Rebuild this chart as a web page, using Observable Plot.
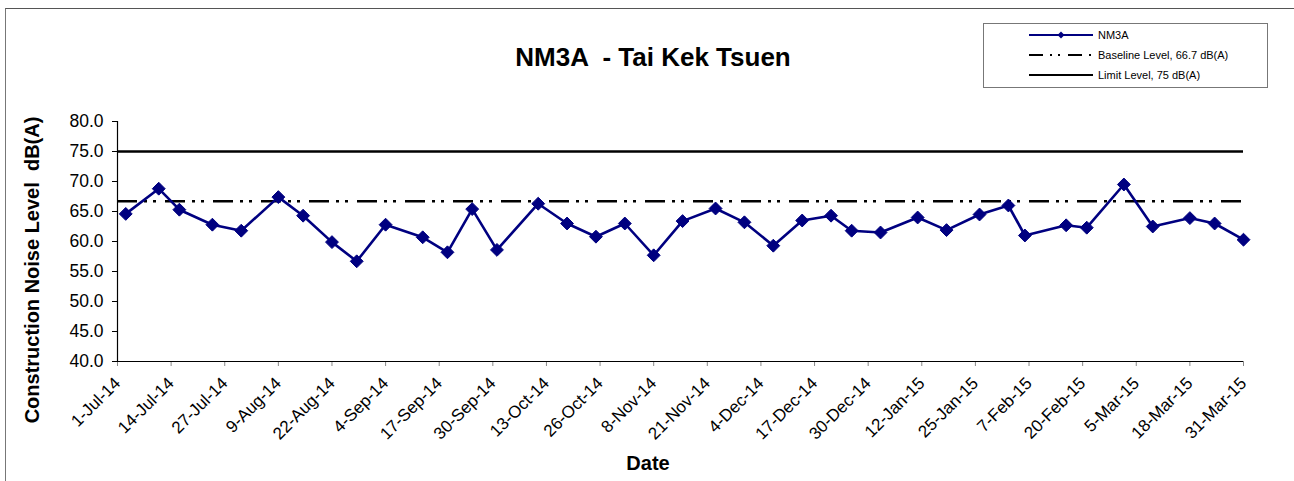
<!DOCTYPE html>
<html>
<head>
<meta charset="utf-8">
<script src="https://cdn.jsdelivr.net/npm/d3@7"></script>
<script src="https://cdn.jsdelivr.net/npm/@observablehq/plot@0.6"></script>
<style>
  html, body { margin: 0; padding: 0; background: #fff; overflow: hidden; }
  #wrap { position: relative; width: 1294px; height: 481px; font-family: "Liberation Sans", Arial, sans-serif; color: #000; }
  #frame { position: absolute; left: 5px; top: 8px; width: 1400px; height: 600px; border-top: 1px solid #555; border-left: 1px solid #777; }
  #chart { position: absolute; left: 0; top: 0; }
  .title { position: absolute; left: 653px; top: 57px; transform: translate(-50%, -50%); font-size: 26px; font-weight: bold; white-space: pre; }
  .ylab { position: absolute; left: 32px; top: 270px; transform: translate(-50%, -50%) rotate(-90deg); font-size: 20px; font-weight: bold; white-space: pre; }
  .xlab { position: absolute; left: 648px; top: 463px; transform: translate(-50%, -50%); font-size: 20px; font-weight: bold; }
  #legend { position: absolute; left: 983px; top: 23px; width: 283px; height: 63px; border: 1px solid #777; background: #fff; }
  #legend .row { position: absolute; left: 0; height: 14px; display: flex; align-items: center; font-size: 11px; }
  #legend svg { margin-left: 45px; margin-right: 5px; }
</style>
</head>
<body>
<div id="wrap">
  <div id="frame"></div>
  <div id="chart"></div>
  <div class="title">NM3A  - Tai Kek Tsuen</div>
  <div class="ylab">Construction Noise Level  dB(A)</div>
  <div class="xlab">Date</div>
  <div id="legend"></div>
</div>
<script>
// ---- data ----
const seriesName = "NM3A";
const dates = [
  "2014-07-03","2014-07-11","2014-07-16","2014-07-24","2014-07-31",
  "2014-08-09","2014-08-15","2014-08-22","2014-08-28","2014-09-04",
  "2014-09-13","2014-09-19","2014-09-25","2014-10-01","2014-10-11",
  "2014-10-18","2014-10-25","2014-11-01","2014-11-08","2014-11-15",
  "2014-11-23","2014-11-30","2014-12-07","2014-12-14","2014-12-21",
  "2014-12-26","2015-01-02","2015-01-11","2015-01-18","2015-01-26",
  "2015-02-02","2015-02-06","2015-02-16","2015-02-21","2015-03-02",
  "2015-03-09","2015-03-18","2015-03-24","2015-03-31"
];
const levels = [
  64.6, 68.8, 65.3, 62.8, 61.8,
  67.4, 64.3, 59.9, 56.7, 62.8,
  60.7, 58.2, 65.4, 58.6, 66.3,
  63.0, 60.8, 63.0, 57.7, 63.4,
  65.5, 63.2, 59.3, 63.5, 64.3,
  61.8, 61.5, 64.0, 61.9, 64.5,
  66.0, 61.0, 62.7, 62.3, 69.5,
  62.5, 63.9, 63.0, 60.3
];
const baselineLabel = "Baseline Level, 66.7 dB(A)";
const baselineLevel = 66.7;
const limitLabel = "Limit Level, 75 dB(A)";
const limitLevel = 75;
const xDomain = ["2014-07-01", "2015-03-31"];
const xTickDates = [
  "2014-07-01","2014-07-14","2014-07-27","2014-08-09","2014-08-22","2014-09-04",
  "2014-09-17","2014-09-30","2014-10-13","2014-10-26","2014-11-08","2014-11-21",
  "2014-12-04","2014-12-17","2014-12-30","2015-01-12","2015-01-25","2015-02-07",
  "2015-02-20","2015-03-05","2015-03-18","2015-03-31"
];
const yTicks = [40, 45, 50, 55, 60, 65, 70, 75, 80];

// ---- build ----
const parse = d3.utcParse("%Y-%m-%d");
const data = dates.map((d, i) => ({date: parse(d), level: levels[i]}));
const fmt = d3.utcFormat("%-d-%b-%y");
const navy = "#000080";

const chart = Plot.plot({
  width: 1294,
  height: 481,
  marginLeft: 117,
  marginRight: 51,
  marginTop: 121,
  marginBottom: 120,
  style: {fontFamily: "'Liberation Sans', Arial, sans-serif", color: "#000", background: "transparent", overflow: "visible"},
  x: {type: "utc", domain: xDomain.map(parse)},
  y: {domain: [40, 80]},
  marks: [
    Plot.axisY({ticks: yTicks, tickFormat: d => d.toFixed(1), tickSize: 5, tickPadding: 9, fontSize: 17.5, label: null, stroke: "#000"}),
    Plot.axisX({ticks: xTickDates.map(parse), tickFormat: fmt, tickRotate: -45, tickSize: 5, tickPadding: 14, fontSize: 17, label: null, stroke: "#888"}),
    Plot.ruleY([40], {stroke: "#000", strokeWidth: 1.2}),
    Plot.ruleX([parse(xDomain[0])], {stroke: "#000", strokeWidth: 1.2}),
    Plot.ruleY([limitLevel], {stroke: "#000", strokeWidth: 2.6}),
    Plot.ruleY([baselineLevel], {stroke: "#000", strokeWidth: 2.6, strokeDasharray: "20,7,3,6,3,9"}),
    Plot.line(data, {x: "date", y: "level", stroke: navy, strokeWidth: 2.6}),
    Plot.dot(data, {x: "date", y: "level", symbol: "diamond2", r: 5.8, fill: navy, stroke: navy, strokeWidth: 1})
  ]
});
document.getElementById("chart").appendChild(chart);

// ---- legend ----
const legend = document.getElementById("legend");
const items = [
  {label: seriesName, type: "series", top: 4},
  {label: baselineLabel, type: "baseline", top: 24},
  {label: limitLabel, type: "limit", top: 44}
];
for (const it of items) {
  const row = document.createElement("div");
  row.className = "row";
  row.style.top = it.top + "px";
  let inner;
  if (it.type === "series") {
    inner = `<line x1="0" y1="7" x2="64" y2="7" stroke="${navy}" stroke-width="2"/><path d="M32,3.5L35.5,7L32,10.5L28.5,7Z" fill="${navy}"/>`;
  } else if (it.type === "baseline") {
    inner = `<line x1="0" y1="7" x2="64" y2="7" stroke="#000" stroke-width="2" stroke-dasharray="14,7,2,6,2,8"/>`;
  } else {
    inner = `<line x1="0" y1="7" x2="64" y2="7" stroke="#000" stroke-width="2"/>`;
  }
  row.innerHTML = `<svg width="64" height="14">${inner}</svg><span>${it.label}</span>`;
  legend.appendChild(row);
}
</script>
</body>
</html>
